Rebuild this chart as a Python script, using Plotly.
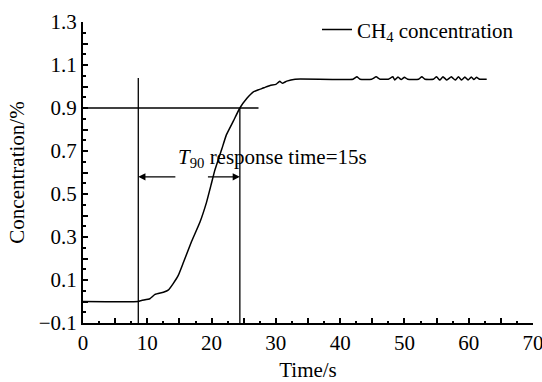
import plotly.graph_objects as go

# ---- data ----
time_s = [0, 8.6, 9.1, 10.4, 11.2, 12.5, 13.3, 14.0, 14.8, 15.6, 16.9, 18.2, 19.2,
          19.9, 20.5, 21.6, 22.3, 23.4, 24.4, 25.5, 26.5, 27.3, 27.8, 28.3, 29.1,
          30.0, 30.6, 31.0, 31.7, 33.0, 42.0, 42.6, 43.1, 44.9, 45.6, 46.2, 47.5,
          48.2, 48.5, 49.0, 49.5, 50.0, 50.5, 52.2, 52.7, 53.2, 54.5, 55.0, 55.5,
          56.0, 56.6, 57.3, 57.9, 58.4, 58.9, 59.4, 59.9, 60.4, 60.8, 61.2, 61.7, 62.8]
conc = [0.0, 0.0, 0.005, 0.013, 0.033, 0.043, 0.054, 0.082, 0.12, 0.18, 0.28, 0.37, 0.46,
        0.54, 0.61, 0.71, 0.775, 0.84, 0.90, 0.945, 0.975, 0.985, 0.99, 0.996, 1.005,
        1.01, 1.024, 1.015, 1.025, 1.034, 1.034, 1.045, 1.034, 1.034, 1.045, 1.034, 1.034,
        1.045, 1.03, 1.044, 1.032, 1.043, 1.034, 1.034, 1.045, 1.034, 1.034, 1.045, 1.03,
        1.045, 1.03, 1.045, 1.03, 1.045, 1.03, 1.044, 1.03, 1.044, 1.032, 1.043, 1.034, 1.034]

t_start = 8.6
t_end = 24.4
level_90 = 0.9
marker_top = 1.04
level_line_end = 27.3

x_tickvals = [0, 5, 10, 15, 20, 25, 30, 35, 40, 45, 50, 55, 60, 65, 70]
x_ticktext = ["0", "", "10", "", "20", "", "30", "", "40", "", "50", "", "60", "", "70"]
y_tickvals = [-0.1, 0.0, 0.1, 0.2, 0.3, 0.4, 0.5, 0.6, 0.7, 0.8, 0.9, 1.0, 1.1, 1.2, 1.3]
y_ticktext = ["\u22120.1", "", "0.1", "", "0.3", "", "0.5", "", "0.7", "", "0.9", "", "1.1", "", "1.3"]

FONT = "Liberation Serif, Times New Roman, serif"
FS = 21
LW = 1.3

fig = go.Figure()

# reference lines
fig.add_trace(go.Scatter(x=[t_start, t_start], y=[-0.1, marker_top], mode="lines",
                         line=dict(color="black", width=LW), showlegend=False, hoverinfo="skip"))
fig.add_trace(go.Scatter(x=[t_end, t_end], y=[-0.1, level_90], mode="lines",
                         line=dict(color="black", width=LW), showlegend=False, hoverinfo="skip"))
fig.add_trace(go.Scatter(x=[0, level_line_end], y=[level_90, level_90], mode="lines",
                         line=dict(color="black", width=LW), showlegend=False, hoverinfo="skip"))

# main curve
fig.add_trace(go.Scatter(x=time_s, y=conc, mode="lines", name="CH<sub>4</sub> concentration",
                         line=dict(color="black", width=1.5, shape="spline", smoothing=0.4)))

# arrows
arrow_y = 0.58
fig.add_annotation(x=t_start, y=arrow_y, ax=14.6, ay=arrow_y, xref="x", yref="y",
                   axref="x", ayref="y", text="", showarrow=True, arrowhead=2,
                   arrowsize=1.1, arrowwidth=1.3, arrowcolor="black")
fig.add_annotation(x=t_end, y=arrow_y, ax=19.2, ay=arrow_y, xref="x", yref="y",
                   axref="x", ayref="y", text="", showarrow=True, arrowhead=2,
                   arrowsize=1.1, arrowwidth=1.3, arrowcolor="black")
fig.add_annotation(x=14.4, y=0.668, xref="x", yref="y", xanchor="left", yanchor="middle",
                   text="<i>T</i><sub>90</sub> response time=15s", showarrow=False,
                   font=dict(family=FONT, size=FS, color="black"))

fig.update_layout(
    width=542, height=382,
    margin=dict(l=83, r=9, t=17, b=59),
    paper_bgcolor="white", plot_bgcolor="white",
    font=dict(family=FONT, size=FS, color="black"),
    showlegend=True,
    legend=dict(x=0.52, y=0.974, xanchor="left", yanchor="middle",
                bgcolor="rgba(0,0,0,0)", font=dict(family=FONT, size=FS, color="black")),
    xaxis=dict(range=[0, 70], tickmode="array", tickvals=x_tickvals, ticktext=x_ticktext,
               ticks="inside", ticklen=5, tickwidth=1.5, tickcolor="black",
               showline=True, linecolor="black", linewidth=2, showgrid=False, zeroline=False,
               ticklabeloverflow="allow", automargin=False,
               minor=dict(tickmode="linear", tick0=0, dtick=2.5, ticks="inside", ticklen=2,
                          tickwidth=1.5, tickcolor="black", showgrid=False),
               title=dict(text="Time/s", standoff=10, font=dict(family=FONT, size=FS)),
               tickfont=dict(family=FONT, size=FS)),
    yaxis=dict(range=[-0.1, 1.3], tickmode="array", tickvals=y_tickvals, ticktext=y_ticktext,
               ticks="inside", ticklen=5, tickwidth=1.5, tickcolor="black",
               showline=True, linecolor="black", linewidth=2, showgrid=False, zeroline=False,
               automargin=False,
               minor=dict(tickmode="linear", tick0=-0.1, dtick=0.05, ticks="inside", ticklen=3,
                          tickwidth=1.5, tickcolor="black", showgrid=False),
               title=dict(text="Concentration/%", standoff=8, font=dict(family=FONT, size=FS)),
               tickfont=dict(family=FONT, size=FS)),
)

fig.write_html("out.html")
